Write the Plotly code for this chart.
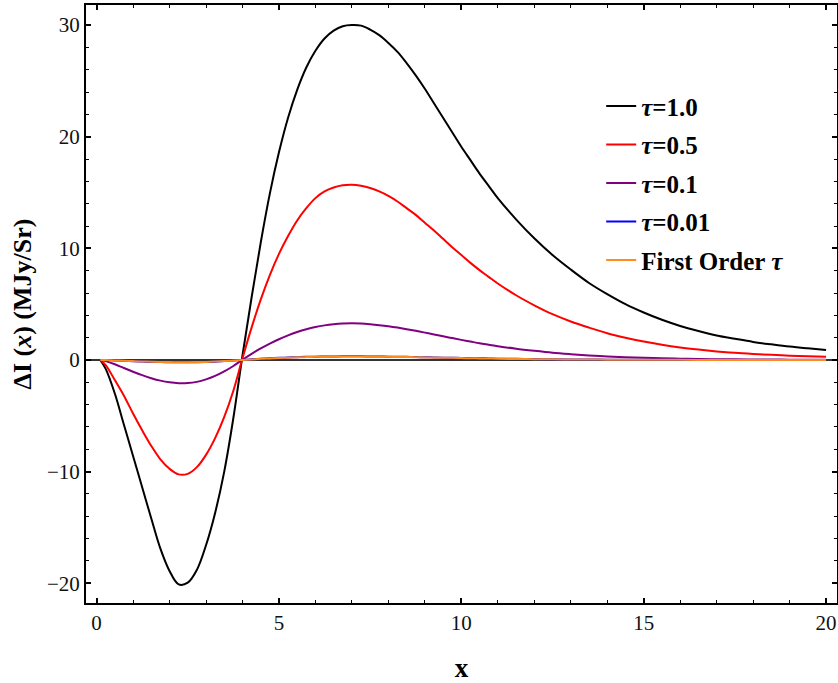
import plotly.graph_objects as go

# x grid (dimensionless frequency)
x_vals = [0.1, 0.25, 0.5, 0.75, 1.0, 1.25, 1.5, 1.75, 2.0, 2.25, 2.5, 2.75, 3.0, 3.25, 3.5, 3.75,
          4.0, 4.25, 4.5, 4.75, 5.0, 5.25, 5.5, 5.75, 6.0, 6.25, 6.5, 6.75, 7.0, 7.25, 7.5, 7.75,
          8.0, 8.25, 8.5, 8.75, 9.0, 9.25, 9.5, 9.75, 10.0, 10.25, 10.5, 10.75, 11.0,
          11.5, 12.0, 12.5, 13.0, 13.5, 14.0, 14.5, 15.0, 15.5, 16.0, 16.5, 17.0, 17.5, 18.0, 18.5, 19.0, 19.5, 20.0]

tau_1_0 = [0.0, -0.8, -3.0, -5.8, -8.6, -11.4, -14.2, -16.9, -18.9, -20.1, -19.95, -18.8, -16.6, -13.7, -10.0, -5.2,
           0.4, 5.6, 10.5, 14.9, 18.6, 21.7, 24.2, 26.2, 27.7, 28.8, 29.5, 29.9, 30.0, 29.95, 29.6, 29.1,
           28.4, 27.6, 26.6, 25.5, 24.3, 23.0, 21.7, 20.4, 19.1, 17.9, 16.7, 15.6, 14.5,
           12.6, 10.9, 9.4, 8.1, 6.9, 5.9, 5.0, 4.25, 3.6, 3.05, 2.6, 2.2, 1.9, 1.62, 1.4, 1.2, 1.04, 0.9]

tau_0_5 = [0.0, -0.45, -1.8, -3.2, -4.8, -6.3, -7.7, -8.9, -9.75, -10.25, -10.2, -9.6, -8.5, -7.0, -5.1, -2.75,
           0.15, 2.9, 5.4, 7.6, 9.5, 11.1, 12.5, 13.6, 14.5, 15.1, 15.45, 15.65, 15.7, 15.6, 15.4, 15.1,
           14.7, 14.2, 13.6, 13.0, 12.3, 11.6, 10.85, 10.1, 9.4, 8.7, 8.05, 7.45, 6.85,
           5.8, 4.9, 4.1, 3.45, 2.9, 2.4, 2.0, 1.65, 1.36, 1.12, 0.93, 0.77, 0.64, 0.54, 0.46, 0.39, 0.34, 0.3]

tau_0_1 = [0.0, -0.1, -0.38, -0.72, -1.05, -1.36, -1.63, -1.85, -2.0, -2.08, -2.07, -1.96, -1.74, -1.43, -1.03, -0.54,
           0.02, 0.55, 1.03, 1.47, 1.86, 2.2, 2.5, 2.75, 2.95, 3.1, 3.2, 3.26, 3.28, 3.26, 3.2, 3.12,
           3.02, 2.9, 2.76, 2.61, 2.45, 2.29, 2.12, 1.96, 1.8, 1.65, 1.5, 1.37, 1.24,
           1.01, 0.82, 0.65, 0.52, 0.41, 0.32, 0.25, 0.19, 0.15, 0.12, 0.09, 0.07, 0.055, 0.045, 0.035, 0.03, 0.025, 0.02]

tau_0_01 = [0.0, -0.01, -0.04, -0.07, -0.11, -0.14, -0.17, -0.19, -0.2, -0.21, -0.21, -0.2, -0.18, -0.15, -0.1, -0.05,
            0.0, 0.06, 0.1, 0.15, 0.19, 0.22, 0.25, 0.28, 0.3, 0.31, 0.32, 0.33, 0.33, 0.33, 0.32, 0.31,
            0.3, 0.29, 0.28, 0.26, 0.25, 0.23, 0.21, 0.2, 0.18, 0.17, 0.15, 0.14, 0.12,
            0.1, 0.08, 0.065, 0.05, 0.04, 0.03, 0.025, 0.02, 0.015, 0.012, 0.009, 0.007, 0.006, 0.005, 0.004, 0.003, 0.0025, 0.002]

first_order = [0.0, -0.01, -0.04, -0.07, -0.1, -0.13, -0.16, -0.18, -0.19, -0.2, -0.2, -0.19, -0.17, -0.14, -0.1, -0.05,
               0.0, 0.05, 0.1, 0.14, 0.18, 0.21, 0.24, 0.26, 0.28, 0.3, 0.31, 0.31, 0.31, 0.31, 0.3, 0.29,
               0.28, 0.27, 0.26, 0.25, 0.23, 0.22, 0.2, 0.19, 0.17, 0.16, 0.14, 0.13, 0.11,
               0.09, 0.075, 0.06, 0.05, 0.04, 0.03, 0.024, 0.019, 0.014, 0.011, 0.008, 0.006, 0.005, 0.004, 0.0035, 0.003, 0.0025, 0.002]

series_names = ["<i>τ</i>=1.0", "<i>τ</i>=0.5", "<i>τ</i>=0.1", "<i>τ</i>=0.01", "First Order <i>τ</i>"]
series_values = [tau_1_0, tau_0_5, tau_0_1, tau_0_01, first_order]
series_colors = ["#000000", "#ff0000", "#800080", "#0000ff", "#ff8a1e"]

x_tickvals = [0, 5, 10, 15, 20]
y_tickvals = [-20, -10, 0, 10, 20, 30]

fig = go.Figure()
for i, (name, vals, col) in enumerate(zip(series_names, series_values, series_colors)):
    n = min(len(x_vals), len(vals))
    fig.add_trace(go.Scatter(x=x_vals[:n], y=vals[:n], mode="lines", name=name, legendgroup=f"g{i}",
                             line=dict(color=col, width=2, shape="spline", smoothing=1.0)))

serif = "Liberation Serif, Times New Roman, serif"

fig.update_layout(
    width=838, height=683,
    margin=dict(l=86, r=1, t=5, b=80),
    paper_bgcolor="white", plot_bgcolor="white",
    font=dict(family=serif, size=21, color="#111"),
    showlegend=True,
    legend=dict(x=0.686, y=0.869, xanchor="left", yanchor="top",
                font=dict(family=serif, size=25, color="#000", weight="bold"),
                bgcolor="rgba(0,0,0,0)", tracegroupgap=3, itemwidth=30),
)

fig.update_xaxes(
    range=[-0.29, 20.3], tickvals=x_tickvals, ticks="inside", ticklen=5, tickwidth=1.5,
    tickcolor="#000", showline=True, linecolor="#000", linewidth=2, mirror="ticks",
    showgrid=False, zeroline=False, automargin=False,
    minor=dict(dtick=1, tick0=0, ticks="inside", ticklen=3, tickwidth=1.2, tickcolor="#000", showgrid=False),
    tickfont=dict(family=serif, size=21, color="#111"),
    title=dict(text="<b>x</b>", font=dict(family=serif, size=27, color="#000"), standoff=25),
)
fig.update_yaxes(
    range=[-21.77, 31.8], tickvals=y_tickvals, ticks="inside", ticklen=5, tickwidth=1.5,
    tickcolor="#000", showline=True, linecolor="#000", linewidth=2, mirror="ticks",
    showgrid=False, zeroline=True, zerolinecolor="#333", zerolinewidth=1.5, automargin=False,
    minor=dict(dtick=2, tick0=0, ticks="inside", ticklen=3, tickwidth=1.2, tickcolor="#000", showgrid=False),
    tickfont=dict(family=serif, size=21, color="#111"),
    title=dict(text="<b>ΔI (<i>x</i>) (MJy/Sr)</b>", font=dict(family=serif, size=26, color="#000"), standoff=8),
)

fig.write_html("out.html", config={"displayModeBar": False},
               post_script="document.body.style.margin='0px';")
